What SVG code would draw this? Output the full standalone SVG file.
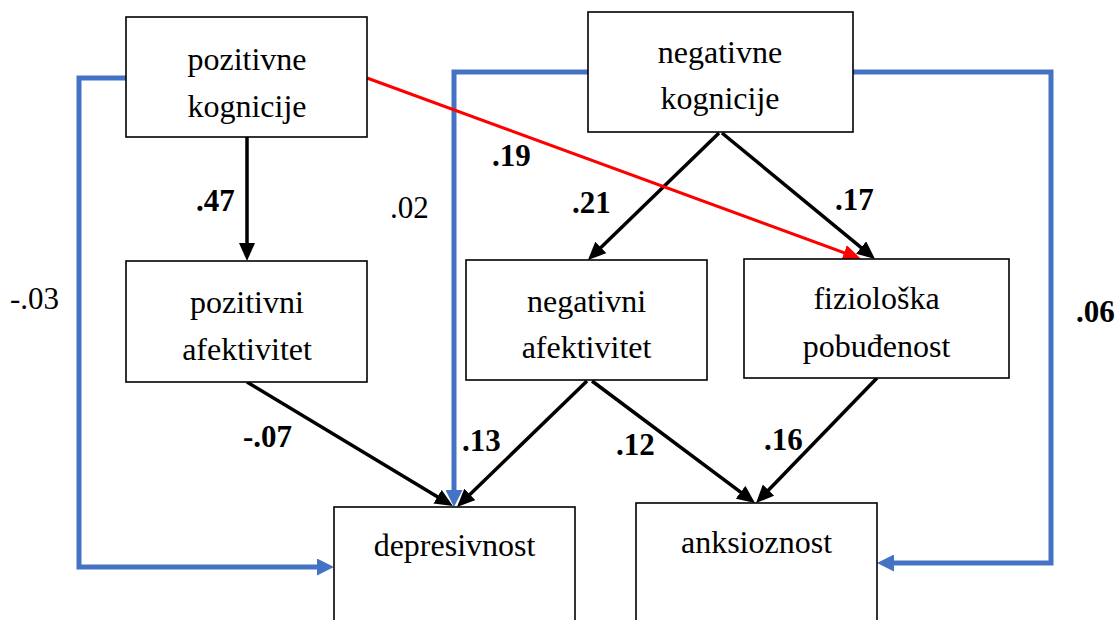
<svg xmlns="http://www.w3.org/2000/svg" width="1117" height="620" viewBox="0 0 1117 620">
<style>
.box{fill:#fff;stroke:#000;stroke-width:1.6}
text{font-family:'Liberation Serif','Times New Roman',Times,Tinos,'Noto Serif','DejaVu Serif',Georgia,serif;fill:#000}
.t{font-size:32px;text-anchor:middle}
.l{font-size:31px}
.b{font-weight:bold}
.blk{fill:none;stroke:#000;stroke-width:3.5}
.blu{fill:none;stroke:#4472C4;stroke-width:5}
.red{fill:none;stroke:#FF0000;stroke-width:3}
</style>
<defs>
<marker id="ab" markerUnits="userSpaceOnUse" markerWidth="18" markerHeight="16" refX="10" refY="8" orient="auto"><path d="M0,0 L18,8 L0,16 Z" fill="#000"/></marker>
<marker id="ar" markerUnits="userSpaceOnUse" markerWidth="18" markerHeight="16" refX="10" refY="8" orient="auto"><path d="M0,0 L18,8 L0,16 Z" fill="#FF0000"/></marker>
<marker id="au" markerUnits="userSpaceOnUse" markerWidth="17" markerHeight="17" refX="9" refY="8.5" orient="auto"><path d="M0,0 L17,8.5 L0,17 Z" fill="#4472C4"/></marker>
</defs>
<rect width="1117" height="620" fill="#fff"/>
<g id="connectors">
<path class="blu" d="M126,78 H79 V567 H326" marker-end="url(#au)"/>
<path class="blu" d="M588,72 H454 V499" marker-end="url(#au)"/>
<path class="blu" d="M853,72 H1051 V563 H885" marker-end="url(#au)"/>
<line class="blk" x1="247" y1="137" x2="247" y2="253" marker-end="url(#ab)"/>
<line class="blk" x1="719" y1="133" x2="593.7" y2="254.4" marker-end="url(#ab)"/>
<line class="blk" x1="722" y1="133" x2="868.8" y2="253.9" marker-end="url(#ab)"/>
<line class="blk" x1="247" y1="382" x2="446.1" y2="501.9" marker-end="url(#ab)"/>
<line class="blk" x1="587" y1="381" x2="462.7" y2="501.4" marker-end="url(#ab)"/>
<line class="blk" x1="592" y1="381" x2="748.6" y2="498.2" marker-end="url(#ab)"/>
<line class="blk" x1="877" y1="378" x2="761.6" y2="497.3" marker-end="url(#ab)"/>
<line class="red" x1="367" y1="78" x2="853.5" y2="256.2" marker-end="url(#ar)"/>
</g>
<g id="pozitivne-kognicije">
<rect class="box" x="126" y="17" width="241" height="120"/>
<text class="t" x="247" y="70">pozitivne</text>
<text class="t" x="247" y="117">kognicije</text>
</g>
<g id="negativne-kognicije">
<rect class="box" x="588" y="12" width="265" height="120"/>
<text class="t" x="720" y="63">negativne</text>
<text class="t" x="720" y="109">kognicije</text>
</g>
<g id="pozitivni-afektivitet">
<rect class="box" x="126" y="261" width="241" height="121"/>
<text class="t" x="247" y="313">pozitivni</text>
<text class="t" x="247" y="360">afektivitet</text>
</g>
<g id="negativni-afektivitet">
<rect class="box" x="466" y="260" width="241" height="120"/>
<text class="t" x="586.5" y="312">negativni</text>
<text class="t" x="586.5" y="358">afektivitet</text>
</g>
<g id="fizioloska-pobudjenost">
<rect class="box" x="744" y="259" width="265" height="119"/>
<text class="t" x="876.5" y="309">fiziološka</text>
<text class="t" x="876.5" y="357">pobuđenost</text>
</g>
<g id="depresivnost">
<rect class="box" x="334" y="507" width="241" height="130"/>
<text class="t" x="454.5" y="556">depresivnost</text>
</g>
<g id="anksioznost">
<rect class="box" x="636" y="503" width="241" height="130"/>
<text class="t" x="756.5" y="553">anksioznost</text>
</g>
<g id="labels">
<text class="l b" x="196" y="211">.47</text>
<text class="l" x="390" y="218">.02</text>
<text class="l b" x="492" y="166">.19</text>
<text class="l b" x="572" y="213">.21</text>
<text class="l b" x="835" y="210">.17</text>
<text class="l" x="10" y="309">-.03</text>
<text class="l b" x="243" y="447">-.07</text>
<text class="l b" x="462" y="451">.13</text>
<text class="l b" x="616" y="455">.12</text>
<text class="l b" x="764" y="450">.16</text>
<text class="l b" x="1076" y="322">.06</text>
</g>
</svg>
